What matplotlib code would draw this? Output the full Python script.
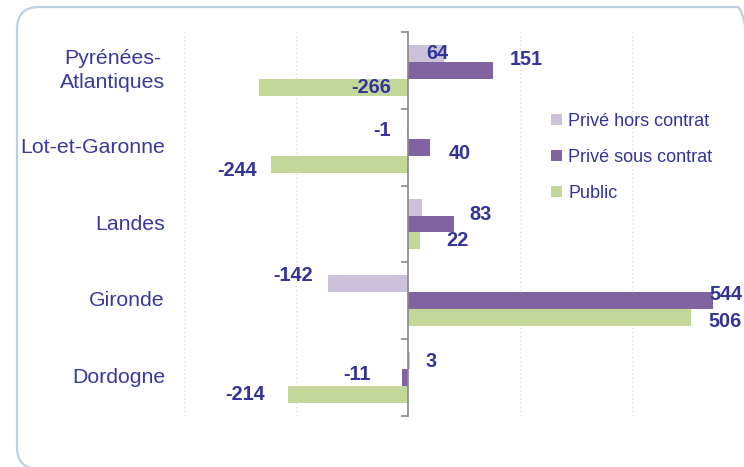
import matplotlib.pyplot as plt
from matplotlib.patches import FancyBboxPatch
import numpy as np

plt.rcParams['font.family'] = ['Liberation Sans', 'DejaVu Sans']

departements = ['Pyrénées-\nAtlantiques', 'Lot-et-Garonne', 'Landes', 'Gironde', 'Dordogne']
series = ['Privé hors contrat', 'Privé sous contrat', 'Public']
prive_hors = [64, -1, 25, -142, 3]
prive_sous = [151, 40, 83, 544, -11]
public = [-266, -244, 22, 506, -214]
show_hors = [True, True, False, True, True]

colors = ['#ccc1da', '#8064a2', '#c4d79b']
txt = '#333399'

# label offsets (pixels from bar end / bar centre), hand placed like the original
dx = [[-7, -25, 0, -35, 21],
      [34, 29, 26, 13, -45],
      [112, -34, 37, 34, -43]]
dy = [[0, 0, 0, -8, 1],
      [-11, 6, -9, -6, -3],
      [0, 6, 0, 4, 0]]

fig = plt.figure(figsize=(7.44, 4.67), dpi=100)
ax = fig.add_axes([184/744, 1 - 416/467, 560/744, 384/467])

box = FancyBboxPatch((0.17, -0.02), 7.42, 4.62, boxstyle='round,pad=0,rounding_size=0.22',
                     transform=fig.dpi_scale_trans, facecolor='none', edgecolor='#bccfe6',
                     linewidth=1.6, zorder=-1)
fig.patches.append(box)

y = np.arange(len(departements))
h = 0.22
vals = [prive_hors, prive_sous, public]
for k, (name, v, c) in enumerate(zip(series, vals, colors)):
    pos = y + (k - 1) * h
    ax.barh(pos, v, height=h, color=c, label=name, zorder=2)
    for i, val in enumerate(v):
        if k == 0 and not show_hors[i]:
            continue
        ax.annotate(str(val), (val, pos[i]), xytext=(dx[k][i], -dy[k][i]),
                    textcoords='offset pixels', ha='center', va='center',
                    fontsize=14.3, fontweight='bold', color=txt, annotation_clip=False)

ax.set_xlim(-400, 600)
ax.set_ylim(4.5, -0.5)
ax.set_xticks([-400, -200, 200, 400])
ax.xaxis.grid(True, linestyle=(0, (1, 2)), color='#e6e2c6', linewidth=1)
ax.tick_params(axis='x', length=0, labelbottom=False)
ax.set_axisbelow(True)

ax.set_yticks(np.arange(-0.5, 5, 1))
ax.set_yticklabels([])
ax.tick_params(axis='y', direction='out', length=5, color='#888888', width=1.2)
for s in ['top', 'right', 'bottom']:
    ax.spines[s].set_visible(False)
ax.spines['left'].set_position(('data', 0))
ax.spines['left'].set_color('#888888')
ax.spines['left'].set_linewidth(1.2)

for i, d in enumerate(departements):
    ax.annotate(d, (0, y[i]), xycoords=('axes fraction', 'data'), xytext=(-19, 0),
                textcoords='offset pixels', ha='right', va='center', fontsize=15.3,
                color='#3a3a9c', multialignment='center', linespacing=1.3)

fig.legend(loc='upper left', bbox_to_anchor=(551/744, 1 - 113/467), frameon=False,
           fontsize=13, handlelength=0.6, handleheight=0.6, handletextpad=0.35,
           labelspacing=1.05, borderpad=0, borderaxespad=0, labelcolor=txt)

fig.savefig('out.png', dpi=100)
